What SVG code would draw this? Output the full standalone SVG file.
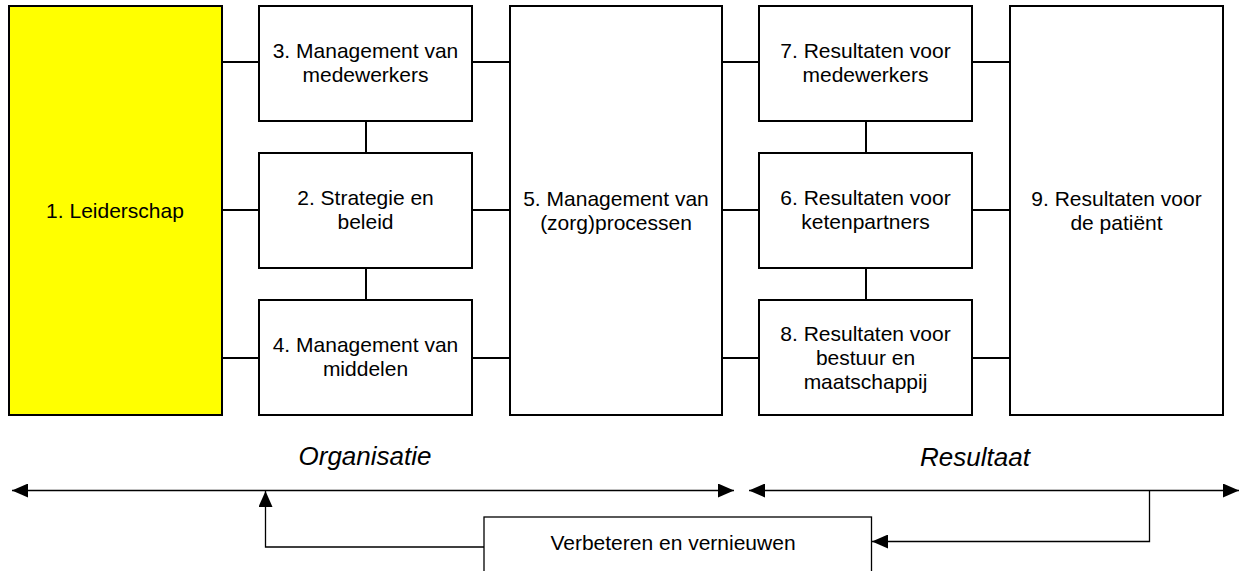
<svg xmlns="http://www.w3.org/2000/svg" width="1240" height="571" viewBox="0 0 1240 571">
<style>
.box{fill:#fff;stroke:#000;stroke-width:2}
.lead{fill:#ffff00;stroke:#000;stroke-width:2}
.t{font-family:"Liberation Sans",Arial,sans-serif;font-size:21px;fill:#000;text-anchor:middle}
.it{font-family:"Liberation Sans",Arial,sans-serif;font-size:26px;font-style:italic;fill:#000;text-anchor:middle}
.c{stroke:#000;stroke-width:2;fill:none}
.a{stroke:#000;stroke-width:1.3;fill:none}
.thin{fill:#fff;stroke:#000;stroke-width:1.3}
</style>
<defs>
<marker id="ah" viewBox="0 0 16 14" refX="16" refY="7" markerWidth="16" markerHeight="14" markerUnits="userSpaceOnUse" orient="auto-start-reverse">
<path d="M0,0 L16,7 L0,14 Z" fill="#000"/>
</marker>
</defs>
<g id="connectors">
<line class="c" x1="222" y1="62" x2="259" y2="62"/>
<line class="c" x1="222" y1="210" x2="259" y2="210"/>
<line class="c" x1="222" y1="358" x2="259" y2="358"/>
<line class="c" x1="472" y1="62" x2="510" y2="62"/>
<line class="c" x1="472" y1="210" x2="510" y2="210"/>
<line class="c" x1="472" y1="358" x2="510" y2="358"/>
<line class="c" x1="722" y1="62" x2="759" y2="62"/>
<line class="c" x1="722" y1="210" x2="759" y2="210"/>
<line class="c" x1="722" y1="358" x2="759" y2="358"/>
<line class="c" x1="972" y1="62" x2="1010" y2="62"/>
<line class="c" x1="972" y1="210" x2="1010" y2="210"/>
<line class="c" x1="972" y1="358" x2="1010" y2="358"/>
<line class="c" x1="366" y1="121" x2="366" y2="153"/>
<line class="c" x1="366" y1="268" x2="366" y2="300"/>
<line class="c" x1="866" y1="121" x2="866" y2="153"/>
<line class="c" x1="866" y1="268" x2="866" y2="300"/>
<line class="a" x1="12" y1="490.5" x2="734" y2="490.5" marker-start="url(#ah)" marker-end="url(#ah)"/>
<line class="a" x1="749" y1="490.5" x2="1239" y2="490.5" marker-start="url(#ah)" marker-end="url(#ah)"/>
<polyline class="a" points="1149.5,490.5 1149.5,541.5 872,541.5" marker-end="url(#ah)"/>
<polyline class="a" points="484,547 265.5,547 265.5,491" marker-end="url(#ah)"/>
</g>
<g id="n1"><rect class="lead" x="9" y="6" width="213" height="409"/><text class="t" x="115" y="218">1. Leiderschap</text></g>
<g id="n3"><rect class="box" x="259" y="6" width="213" height="115"/><text class="t" x="365.5" y="58">3. Management van</text><text class="t" x="365.5" y="82">medewerkers</text></g>
<g id="n2"><rect class="box" x="259" y="153" width="213" height="115"/><text class="t" x="365.5" y="205">2. Strategie en</text><text class="t" x="365.5" y="229">beleid</text></g>
<g id="n4"><rect class="box" x="259" y="300" width="213" height="115"/><text class="t" x="365.5" y="352">4. Management van</text><text class="t" x="365.5" y="376">middelen</text></g>
<g id="n5"><rect class="box" x="510" y="6" width="212" height="409"/><text class="t" x="616" y="206">5. Management van</text><text class="t" x="616" y="230">(zorg)processen</text></g>
<g id="n7"><rect class="box" x="759" y="6" width="213" height="115"/><text class="t" x="865.5" y="58">7. Resultaten voor</text><text class="t" x="865.5" y="82">medewerkers</text></g>
<g id="n6"><rect class="box" x="759" y="153" width="213" height="115"/><text class="t" x="865.5" y="205">6. Resultaten voor</text><text class="t" x="865.5" y="229">ketenpartners</text></g>
<g id="n8"><rect class="box" x="759" y="300" width="213" height="115"/><text class="t" x="865.5" y="341">8. Resultaten voor</text><text class="t" x="865.5" y="365">bestuur en</text><text class="t" x="865.5" y="389">maatschappij</text></g>
<g id="n9"><rect class="box" x="1010" y="6" width="213" height="409"/><text class="t" x="1116.5" y="206">9. Resultaten voor</text><text class="t" x="1116.5" y="230">de patiënt</text></g>
<g id="labels"><text class="it" x="365" y="465">Organisatie</text><text class="it" x="975" y="466">Resultaat</text></g>
<g id="nv"><rect class="thin" x="484" y="517" width="387.5" height="70"/><text class="t" x="673" y="550">Verbeteren en vernieuwen</text></g>
</svg>
